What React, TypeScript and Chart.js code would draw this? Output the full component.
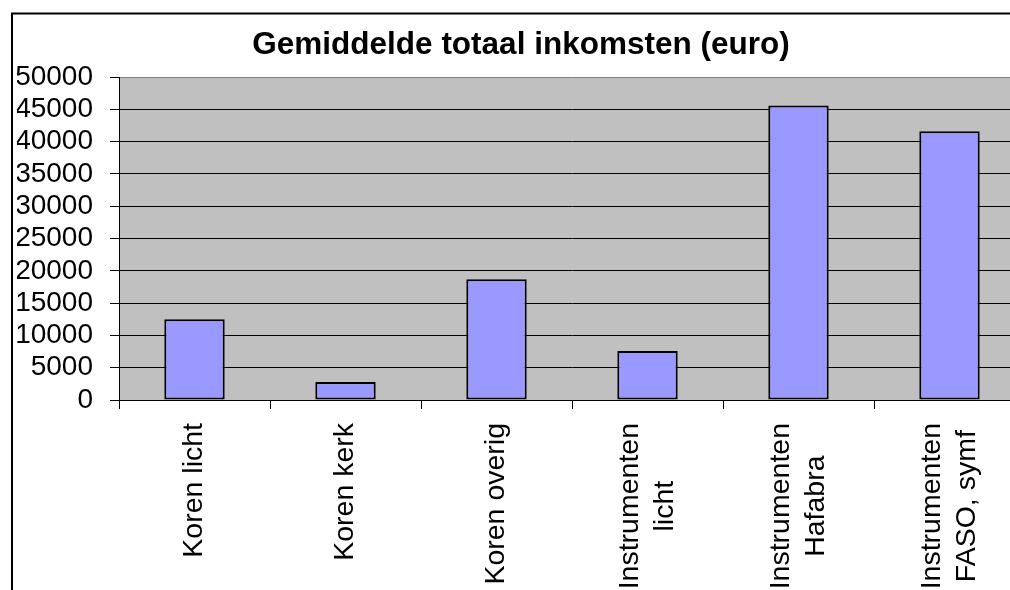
import React, { useEffect, useRef } from "react";
import { Chart, registerables } from "chart.js";

Chart.register(...registerables);

const FONT = '"Liberation Sans", Arial, Helvetica, sans-serif';

const chartTitle = "Gemiddelde totaal inkomsten (euro)";
const categoryLines: string[][] = [
  ["Koren licht"],
  ["Koren kerk"],
  ["Koren overig"],
  ["Instrumenten", "licht"],
  ["Instrumenten", "Hafabra"],
  ["Instrumenten", "FASO, symf"],
];
const incomeValues: number[] = [12500, 2800, 18700, 7600, 45600, 41600];
const yMin = 0;
const yMax = 50000;
const yStep = 5000;

const CANVAS_W = 1040;
const CANVAS_H = 640;

const backgroundPlugin = {
  id: "bgAndBorder",
  beforeDraw(chart: any) {
    const { ctx, chartArea } = chart;
    ctx.save();
    ctx.fillStyle = "#ffffff";
    ctx.fillRect(0, 0, chart.width, chart.height);
    ctx.fillStyle = "#C0C0C0";
    ctx.fillRect(
      chartArea.left,
      chartArea.top,
      chartArea.right - chartArea.left,
      chartArea.bottom - chartArea.top
    );
    ctx.strokeStyle = "#000000";
    ctx.lineWidth = 2;
    ctx.strokeRect(12, 13.5, chart.width + 20, chart.height + 20);
    ctx.restore();
  },
};

const xLabelPlugin = {
  id: "xLabels",
  afterDraw(chart: any) {
    const { ctx, chartArea } = chart;
    const xs = chart.scales.x;
    const axisY = chartArea.bottom;
    ctx.save();
    ctx.font = `28.5px ${FONT}`;
    ctx.fillStyle = "#000000";
    ctx.textAlign = "center";
    ctx.textBaseline = "middle";
    categoryLines.forEach((lines, i) => {
      const x = xs.getPixelForValue(i);
      const maxW = Math.max(...lines.map((l) => ctx.measureText(l).width));
      ctx.save();
      ctx.translate(x, axisY);
      ctx.rotate(-Math.PI / 2);
      lines.forEach((l, j) => {
        ctx.fillText(l, -(23 + maxW / 2), (j - (lines.length - 1) / 2) * 35);
      });
      ctx.restore();
    });
    ctx.restore();
  },
};

export default function App() {
  const canvasRef = useRef<HTMLCanvasElement | null>(null);

  useEffect(() => {
    const canvas = canvasRef.current;
    if (!canvas) return;
    const chart = new Chart(canvas, {
      type: "bar",
      data: {
        labels: categoryLines.map((l) => l.join(" ")),
        datasets: [
          {
            data: incomeValues,
            backgroundColor: "#9999FF",
            borderColor: "#000000",
            borderWidth: 2,
            borderSkipped: false,
            categoryPercentage: 1,
            barPercentage: 0.4,
          },
        ],
      },
      options: {
        responsive: false,
        animation: false,
        devicePixelRatio: 1,
        layout: { padding: { left: 17, right: 15, top: 14, bottom: 0 } },
        plugins: {
          legend: { display: false },
          tooltip: { enabled: false },
          title: {
            display: true,
            text: chartTitle,
            color: "#000000",
            font: { family: FONT, size: 31.5, weight: "bold", lineHeight: 1.2 },
            padding: { top: 12.4, bottom: 12.8 },
          },
        },
        scales: {
          x: {
            grid: {
              display: true,
              drawOnChartArea: false,
              drawTicks: true,
              tickLength: 9,
              color: "#000000",
              lineWidth: 1,
              offset: true,
            },
            border: { display: true, color: "#000000", width: 1 },
            ticks: { display: false },
            afterFit(scale: any) {
              scale.height = CANVAS_H - 400;
            },
          },
          y: {
            min: yMin,
            max: yMax,
            grid: {
              color: (c: any) =>
                c.tick && c.tick.value === yMax ? "#808080" : "#000000",
              lineWidth: 1,
              drawTicks: true,
              tickLength: 9,
              tickColor: "#000000",
            },
            border: { display: true, color: "#000000", width: 1 },
            ticks: {
              stepSize: yStep,
              autoSkip: false,
              padding: 17,
              color: "#000000",
              font: { family: FONT, size: 28 },
              callback: (v: any) => String(v),
            },
            afterFit(scale: any) {
              scale.width = 119 - 17;
            },
          },
        },
      },
      plugins: [backgroundPlugin, xLabelPlugin],
    });
    return () => chart.destroy();
  }, []);

  return (
    <div
      style={{
        position: "fixed",
        left: 0,
        top: 0,
        width: 1010,
        height: 590,
        overflow: "hidden",
        background: "#ffffff",
      }}
    >
      <canvas
        ref={canvasRef}
        width={CANVAS_W}
        height={CANVAS_H}
        style={{ display: "block", width: CANVAS_W, height: CANVAS_H }}
      />
    </div>
  );
}
